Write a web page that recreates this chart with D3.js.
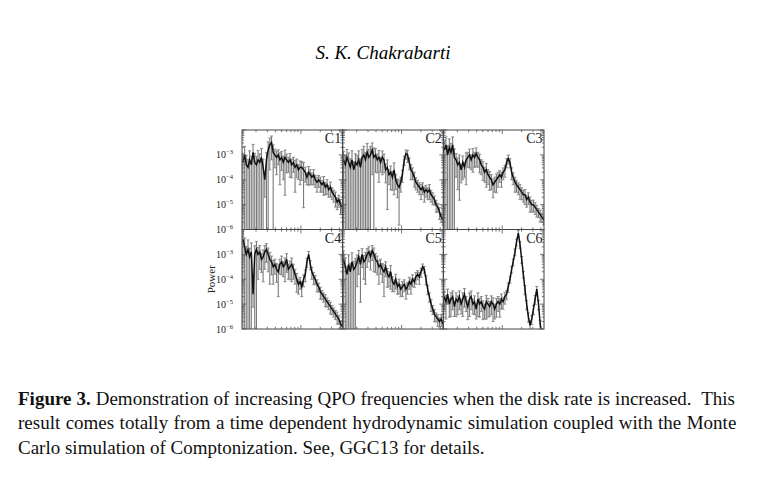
<!DOCTYPE html>
<html>
<head>
<meta charset="utf-8">
<script src="https://cdn.jsdelivr.net/npm/d3@7"></script>
<style>
  body { margin: 0; background: #fff; }
  svg { display: block; font-family: 'Liberation Serif', 'Times New Roman', serif; }
</style>
</head>
<body>
<div id="fig"></div>
<script>
'use strict';

// Frequency bins shared by all six spectra
const freq = [1.25, 1.33, 1.41, 1.50, 1.59, 1.69, 1.80, 1.91, 2.03, 2.15,
              2.29, 2.43, 2.58, 2.74, 2.91, 3.09, 3.28, 3.49, 3.70, 3.93,
              4.18, 4.44, 4.71, 5.01, 5.32, 5.65, 6.00, 6.37, 6.77, 7.19,
              7.64, 8.11, 8.62, 9.15, 9.72, 10.3, 11.0, 11.7, 12.4, 13.2,
              14.0, 14.8, 15.8, 16.7, 17.8, 18.9, 20.1, 21.3, 22.6, 24.0,
              25.5, 27.1, 28.8, 30.6, 32.5, 34.5, 36.7, 39.0, 41.4, 44.0];

// log10 of the power in each bin, one array per case
const logPowerC1 = [-3.3, -3.0, -3.4, -3.5, -3.2, -3.4, -2.9, -3.3, -3.4, -3.2,
                    -3.3, -3.1, -3.5, -4.0, -3.2, -2.8, -2.6, -2.5, -2.9, -3.0,
                    -3.1, -3.0, -3.2, -3.1, -3.3, -3.1, -3.2, -3.3, -3.2, -3.4,
                    -3.3, -3.5, -3.4, -3.6, -3.5, -3.5, -3.6, -3.7, -3.9, -3.7,
                    -3.8, -3.9, -3.8, -4.0, -4.1, -4.0, -4.1, -4.2, -4.1, -4.3,
                    -4.2, -4.4, -4.3, -4.5, -4.6, -4.7, -4.9, -4.8, -5.0, -5.1];
const logPowerC2 = [-3.2, -3.4, -3.1, -3.3, -3.5, -3.2, -3.6, -3.3, -3.4, -3.2,
                    -3.5, -3.1, -3.0, -3.2, -2.9, -3.1, -3.0, -2.8, -3.1, -3.0,
                    -3.2, -3.1, -3.3, -3.1, -3.2, -3.6, -3.5, -3.8, -3.7, -3.9,
                    -3.6, -4.0, -4.2, -4.3, -4.1, -3.8, -3.2, -2.95, -3.0, -3.3,
                    -3.6, -3.7, -3.9, -4.1, -4.2, -4.3, -4.4, -4.3, -4.5, -4.4,
                    -4.5, -4.4, -4.6, -4.7, -4.8, -5.0, -5.1, -5.3, -5.5, -5.6];
const logPowerC3 = [-2.8, -2.6, -3.0, -2.7, -2.9, -2.6, -3.1, -3.2, -3.4, -3.3,
                    -3.6, -3.3, -3.5, -3.2, -3.1, -3.0, -3.2, -3.0, -3.1, -2.95,
                    -3.1, -3.2, -3.4, -3.5, -3.7, -3.6, -3.8, -3.9, -4.0, -4.2,
                    -4.1, -4.0, -3.9, -3.8, -3.9, -3.7, -3.6, -3.3, -3.15, -3.3,
                    -3.7, -3.9, -4.1, -4.2, -4.3, -4.4, -4.5, -4.6, -4.6, -4.8,
                    -4.7, -4.9, -5.0, -5.0, -5.1, -5.2, -5.3, -5.4, -5.5, -5.6];
const logPowerC4 = [-2.4, -2.7, -3.0, -2.8, -3.1, -2.9, -4.6, -3.0, -2.8, -3.0,
                    -2.9, -3.2, -3.1, -2.9, -2.8, -3.0, -3.2, -3.3, -3.5, -3.4,
                    -3.6, -3.7, -3.4, -3.3, -3.5, -3.4, -3.2, -3.6, -3.5, -3.4,
                    -3.6, -3.8, -4.0, -4.2, -4.1, -4.3, -4.0, -3.8, -3.3, -3.0,
                    -3.4, -3.7, -3.9, -4.0, -4.2, -4.3, -4.5, -4.6, -4.7, -4.8,
                    -4.9, -5.0, -5.1, -5.2, -5.3, -5.4, -5.5, -5.6, -5.8, -5.9];
const logPowerC5 = [-3.2, -3.5, -3.8, -3.4, -3.7, -3.3, -3.6, -3.5, -3.3, -3.1,
                    -3.4, -3.0, -3.3, -3.2, -3.0, -2.9, -3.1, -2.85, -3.0, -3.2,
                    -3.3, -3.5, -3.4, -3.6, -3.7, -3.5, -3.8, -3.9, -3.7, -4.1,
                    -4.2, -4.0, -4.3, -4.2, -4.4, -4.3, -4.2, -4.4, -4.3, -4.1,
                    -4.2, -4.0, -4.1, -3.9, -3.8, -3.9, -3.7, -3.5, -3.6, -4.0,
                    -4.4, -4.7, -5.0, -5.2, -5.4, -5.5, -5.6, -5.7, -5.6, -5.8];
const logPowerC6 = [-4.7, -4.9, -4.6, -5.0, -4.8, -4.7, -5.1, -4.8, -4.9, -4.7,
                    -5.0, -4.8, -4.6, -4.9, -5.1, -4.8, -4.7, -5.0, -4.9, -5.2,
                    -4.8, -5.0, -4.9, -5.1, -5.2, -4.9, -5.0, -5.1, -4.9, -5.0,
                    -5.2, -5.0, -4.9, -5.0, -4.8, -4.9, -4.7, -4.6, -4.3, -4.0,
                    -3.6, -3.3, -2.9, -2.5, -2.15, -2.6, -3.2, -3.8, -4.4, -5.0,
                    -5.5, -5.85, -5.6, -5.2, -4.8, -4.4, -5.0, -5.8, -6.2, -6.3];

// Relative error (sigma / power) of each bin
const relErrC1 = [1.3, 1.2, 1.4, 1.1, 1.3, 1.2, 1.1, 1.3, 1.2, 1.4,
                  1.2, 1.3, 1.1, 0.8, 1.0, 1.1, 0.9, 0.8, 1.0, 0.7,
                  0.8, 0.6, 0.9, 0.7, 0.8, 0.97, 0.7, 0.6, 0.8, 0.7,
                  0.6, 0.9, 0.7, 0.6, 0.8, 0.7, 0.97, 0.6, 0.5, 0.7,
                  0.6, 0.5, 0.6, 0.5, 0.6, 0.5, 0.6, 0.5, 0.7, 0.5,
                  0.6, 0.5, 0.6, 0.5, 0.5, 0.6, 0.5, 0.5, 0.6, 0.5];
const relErrC2 = [1.2, 1.3, 1.1, 1.4, 1.2, 1.3, 1.1, 1.2, 1.4, 1.3,
                  1.2, 1.1, 1.2, 1.0, 1.3, 1.1, 1.2, 0.9, 1.4, 0.8,
                  0.7, 0.9, 0.6, 0.8, 0.7, 0.7, 0.98, 0.6, 0.8, 0.7,
                  0.9, 0.6, 0.7, 0.97, 0.6, 0.5, 0.4, 0.4, 0.5, 0.5,
                  0.6, 0.5, 0.6, 0.5, 0.5, 0.5, 0.6, 0.5, 0.6, 0.5,
                  0.5, 0.6, 0.5, 0.5, 0.4, 0.5, 0.4, 0.5, 0.4, 0.4];
const relErrC3 = [1.3, 1.1, 1.4, 1.2, 1.3, 1.1, 1.2, 0.8, 0.9, 0.97,
                  0.7, 0.8, 0.6, 0.9, 0.6, 0.7, 0.6, 0.8, 0.6, 0.7,
                  0.6, 0.7, 0.6, 0.7, 0.6, 0.8, 0.6, 0.7, 0.6, 0.7,
                  0.6, 0.7, 0.6, 0.5, 0.6, 0.5, 0.5, 0.4, 0.4, 0.4,
                  0.5, 0.5, 0.6, 0.5, 0.5, 0.6, 0.5, 0.5, 0.6, 0.5,
                  0.5, 0.6, 0.5, 0.5, 0.5, 0.5, 0.4, 0.5, 0.4, 0.4];
const relErrC4 = [1.2, 1.3, 1.1, 1.4, 1.2, 1.3, 0.7, 1.2, 1.1, 0.9,
                  0.8, 0.7, 0.9, 0.8, 0.7, 0.8, 0.9, 0.7, 0.8, 0.6,
                  0.7, 0.9, 0.6, 0.7, 0.6, 0.8, 0.7, 0.6, 0.7, 0.8,
                  0.6, 0.6, 0.7, 0.6, 0.5, 0.6, 0.5, 0.5, 0.4, 0.3,
                  0.4, 0.5, 0.5, 0.4, 0.5, 0.4, 0.5, 0.4, 0.4, 0.5,
                  0.4, 0.4, 0.5, 0.4, 0.4, 0.4, 0.5, 0.4, 0.4, 0.4];
const relErrC5 = [1.2, 1.3, 1.1, 1.4, 1.2, 1.3, 1.1, 1.2, 0.9, 0.8,
                  0.97, 0.7, 0.8, 0.9, 0.7, 0.6, 0.7, 0.6, 0.8, 0.7,
                  0.7, 0.8, 0.6, 0.7, 0.9, 0.6, 0.7, 0.6, 0.8, 0.6,
                  0.5, 0.6, 0.5, 0.6, 0.5, 0.6, 0.5, 0.6, 0.5, 0.5,
                  0.6, 0.5, 0.4, 0.5, 0.4, 0.5, 0.4, 0.3, 0.3, 0.4,
                  0.4, 0.4, 0.5, 0.4, 0.5, 0.4, 0.5, 0.4, 0.5, 0.4];
const relErrC6 = [0.7, 0.8, 0.6, 0.7, 0.8, 0.7, 0.6, 0.8, 0.7, 0.7,
                  0.6, 0.8, 0.7, 0.6, 0.7, 0.8, 0.7, 0.6, 0.7, 0.6,
                  0.8, 0.7, 0.6, 0.7, 0.6, 0.8, 0.7, 0.6, 0.7, 0.8,
                  0.6, 0.7, 0.6, 0.7, 0.6, 0.5, 0.5, 0.4, 0.4, 0.3,
                  0.3, 0.3, 0.3, 0.3, 0.3, 0.3, 0.3, 0.3, 0.4, 0.4,
                  0.4, 0.5, 0.4, 0.4, 0.4, 0.3, 0.4, 0.4, 0.5, 0.5];

const panelNames = ['C1', 'C2', 'C3', 'C4', 'C5', 'C6'];
const panelPower = [logPowerC1, logPowerC2, logPowerC3, logPowerC4, logPowerC5, logPowerC6];
const panelErr = [relErrC1, relErrC2, relErrC3, relErrC4, relErrC5, relErrC6];
const yTickExponents = [-3, -4, -5, -6];

const headerText = 'S. K. Chakrabarti';
const captionLabel = 'Figure 3.';
const captionLines = [
    ' Demonstration of increasing QPO frequencies when the disk rate is increased.  This',
    'result comes totally from a time dependent hydrodynamic simulation coupled with the Monte',
    'Carlo simulation of Comptonization. See, GGC13 for details.'
];

// One small log-log power spectrum panel
class PowerPanel {
    #scaleX;
    #scaleY;

    constructor(svg, left, top, width, height, id) {
        this.width = width;
        this.height = height;
        this.g = svg.append('g').attr('transform', `translate(${left},${top})`);

        // clip so the bars reaching below 1e-6 stop at the frame
        svg.append('clipPath').attr('id', 'clip' + id)
            .append('rect').attr('width', width).attr('height', height);
        this.plot = this.g.append('g').attr('clip-path', `url(#clip${id})`);

        this.#scaleX = d3.scaleLog().domain([1.21, 44.7]).range([0, width]);
        this.#scaleY = d3.scaleLog().domain([1e-6, 1e-2]).range([height, 0]);
    }

    render(name, logPower, relErr, withLabels) {
        const x = this.#scaleX, y = this.#scaleY;
        const data = freq.map((f, i) => {
            const p = Math.pow(10, logPower[i]);
            const s = relErr[i] * p;
            return {f: f, p: p, hi: p + s, lo: Math.max(p - s, 1e-8)};
        });

        // error bars
        const bars = this.plot.selectAll('g.err').data(data).join('g').classed('err', true);
        bars.append('line')
            .attr('x1', d => x(d.f)).attr('x2', d => x(d.f))
            .attr('y1', d => y(d.lo)).attr('y2', d => y(d.hi))
            .attr('stroke', '#7a7a7a').attr('stroke-width', 1.1);
        bars.append('line')
            .attr('x1', d => x(d.f) - 1.5).attr('x2', d => x(d.f) + 1.5)
            .attr('y1', d => y(d.hi)).attr('y2', d => y(d.hi))
            .attr('stroke', '#8a8a8a').attr('stroke-width', 1);
        bars.filter(d => d.lo > 1e-6).append('line')
            .attr('x1', d => x(d.f) - 1.5).attr('x2', d => x(d.f) + 1.5)
            .attr('y1', d => y(d.lo)).attr('y2', d => y(d.lo))
            .attr('stroke', '#8a8a8a').attr('stroke-width', 1);

        // the spectrum itself
        this.plot.append('path')
            .datum(data)
            .attr('d', d3.line().x(d => x(d.f)).y(d => y(d.p)))
            .attr('fill', 'none')
            .attr('stroke', '#111')
            .attr('stroke-width', 1.5);

        // frame
        this.g.append('rect')
            .attr('width', this.width).attr('height', this.height)
            .attr('fill', 'none').attr('stroke', '#444').attr('stroke-width', 1);

        // inward ticks on all four sides
        const isMajor = v => Math.abs(Math.log10(v) - Math.round(Math.log10(v))) < 1e-6;
        const tickX = x.ticks();
        const tickY = y.ticks();
        const tg = this.g.append('g').attr('stroke', '#555').attr('stroke-width', 0.8);
        tickX.forEach(v => {
            const len = isMajor(v) ? 4 : 2.2;
            tg.append('line').attr('x1', x(v)).attr('x2', x(v)).attr('y1', this.height).attr('y2', this.height - len);
            tg.append('line').attr('x1', x(v)).attr('x2', x(v)).attr('y1', 0).attr('y2', len);
        });
        tickY.forEach(v => {
            const len = isMajor(v) ? 4 : 2.2;
            tg.append('line').attr('y1', y(v)).attr('y2', y(v)).attr('x1', 0).attr('x2', len);
            tg.append('line').attr('y1', y(v)).attr('y2', y(v)).attr('x1', this.width).attr('x2', this.width - len);
        });

        // case name in the corner
        this.g.append('text')
            .attr('x', this.width - 1.5).attr('y', 13)
            .attr('text-anchor', 'end')
            .attr('font-size', 14)
            .attr('fill', '#222')
            .text(name);

        if (withLabels) {
            yTickExponents.forEach(k => {
                const t = this.g.append('text')
                    .attr('x', -9).attr('y', y(Math.pow(10, k)) + 3.5)
                    .attr('text-anchor', 'end')
                    .attr('font-size', 10)
                    .attr('fill', '#222');
                t.append('tspan').text('10');
                t.append('tspan').attr('dy', -4).attr('font-size', 6.5).text('\u2212' + Math.abs(k));
            });
        }
    }
}

const W = 762, H = 479;
const svg = d3.select('#fig').append('svg').attr('width', W).attr('height', H);

// panel grid
const gridLeft = 242, gridRight = 544, gridTop = 130, gridBottom = 329;
const pw = (gridRight - gridLeft) / 3;
const ph = (gridBottom - gridTop) / 2;

panelNames.forEach((name, i) => {
    const col = i % 3, row = Math.floor(i / 3);
    const panel = new PowerPanel(svg, gridLeft + col * pw, gridTop + row * ph, pw, ph, i);
    panel.render(name, panelPower[i], panelErr[i], col === 0);
});

// y axis title
svg.append('text')
    .attr('transform', `translate(215,${gridTop + 1.5 * ph}) rotate(-90)`)
    .attr('text-anchor', 'middle')
    .attr('font-size', 11)
    .attr('fill', '#222')
    .text('Power');

// running header
svg.append('text')
    .attr('x', 383).attr('y', 59)
    .attr('text-anchor', 'middle')
    .attr('font-size', 19)
    .attr('font-style', 'italic')
    .text(headerText);

// caption, first two lines justified
const captionBase = [405, 429, 454];
const captionRight = [735, 737, null];
captionLines.forEach((line, i) => {
    const t = svg.append('text')
        .attr('x', 18).attr('y', captionBase[i])
        .attr('font-size', 19)
        .attr('fill', '#111');
    if (i === 0) {
        t.append('tspan').attr('font-weight', 'bold').text(captionLabel);
    }
    t.append('tspan').attr('xml:space', 'preserve').style('white-space', 'pre').text(line);
    if (captionRight[i]) {
        const spaces = (captionLabel + line).split(' ').length - 1;
        const extra = (captionRight[i] - 18) - t.node().getComputedTextLength();
        t.attr('word-spacing', extra / spaces);
    }
});
</script>
</body>
</html>
